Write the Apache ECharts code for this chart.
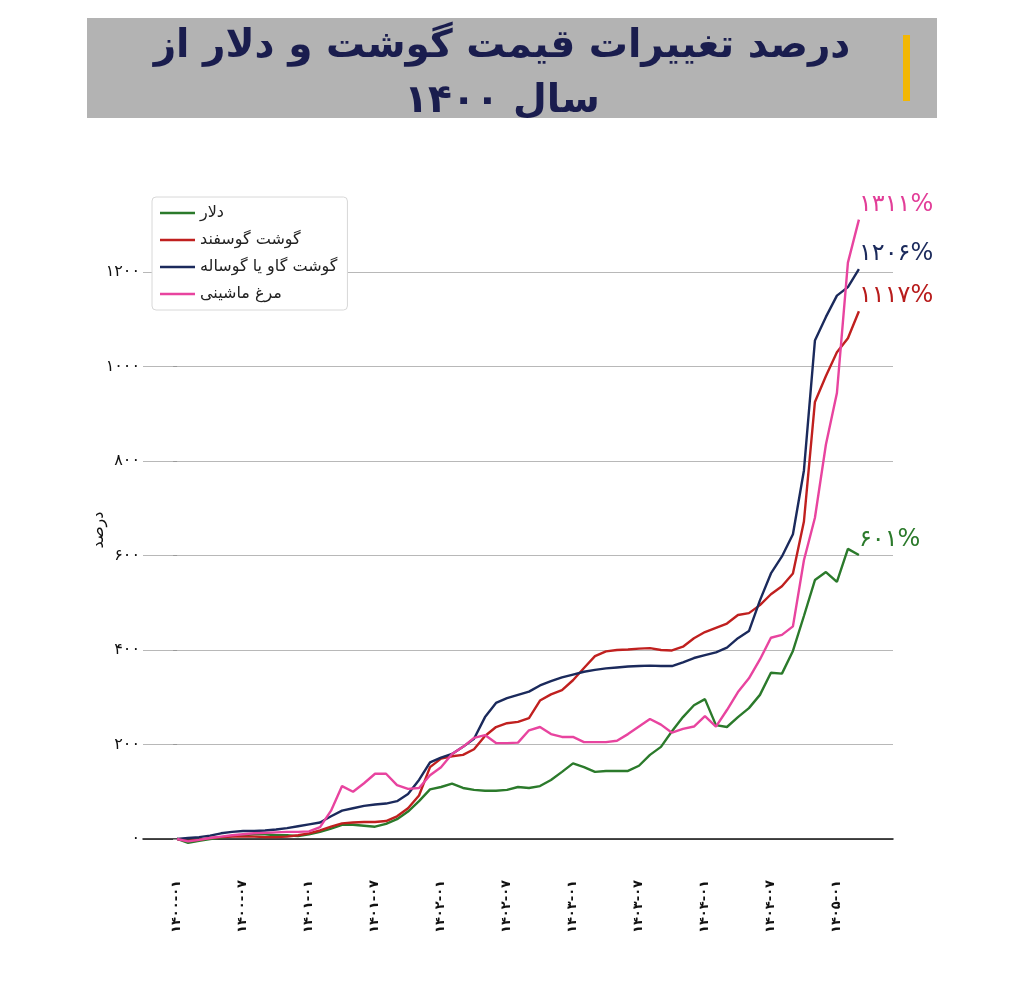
<!DOCTYPE html>
<html><head><meta charset="utf-8">
<script src="https://cdn.jsdelivr.net/npm/echarts@6/dist/echarts.min.js"></script>
<style>html,body{margin:0;padding:0;background:#fff}#c{width:1024px;height:988px}</style>
</head><body><div id="c"></div>
<script>
const seriesNames = ['دلار', 'گوشت گوسفند', 'گوشت گاو یا گوساله', 'مرغ ماشینی'];
const dollar = [0,-8,-4,0,3,6,8,10,10,8,8,6,10,15,22,30,30,28,26,32,42,58,80,105,110,117,108,104,102,102,104,110,108,112,125,142,160,152,142,144,144,144,155,178,195,228,258,283,296,241,237,258,277,305,352,350,398,472,548,565,544,614,601];
const sheep = [0,-4,-2,2,4,5,5,5,4,4,5,8,12,18,26,33,35,36,36,38,48,65,92,152,170,175,178,190,218,237,245,248,256,293,306,315,336,362,387,397,400,401,403,404,400,399,407,425,438,447,456,474,478,495,518,535,562,672,925,980,1030,1060,1117];
const beef = [0,2,4,7,12,15,17,17,18,20,23,27,31,35,48,60,65,70,73,75,80,95,125,162,172,180,195,212,258,288,298,305,312,325,334,342,348,354,358,361,363,365,366,367,366,366,374,383,389,395,405,425,440,505,562,598,645,780,1055,1105,1150,1168,1206];
const chicken = [0,-5,-2,2,5,8,10,12,13,14,15,15,16,25,60,112,100,118,138,138,114,106,108,135,152,180,195,214,220,203,203,204,230,237,222,216,216,205,205,205,208,222,238,254,242,225,233,238,260,238,273,311,340,380,426,432,450,590,680,835,944,1220,1311];
const xTickIdx = [0,6,12,18,24,30,36,42,48,54,60];
const xTickLabels = ['۱۴۰۰-۰۱','۱۴۰۰-۰۷','۱۴۰۱-۰۱','۱۴۰۱-۰۷','۱۴۰۲-۰۱','۱۴۰۲-۰۷','۱۴۰۳-۰۱','۱۴۰۳-۰۷','۱۴۰۴-۰۱','۱۴۰۴-۰۷','۱۴۰۵-۰۱'];
const yTicks = [0,200,400,600,800,1000,1200];
const yTickLabels = ['۰','۲۰۰','۴۰۰','۶۰۰','۸۰۰','۱۰۰۰','۱۲۰۰'];
const colors = ['#2b7a2b', '#c0201f', '#1b2a5c', '#e8449f'];
const labelColors = ['#2b7a2b', '#b81c1c', '#1b2a5c', '#e23e98'];

const toFa = s => String(s).replace(/\d/g, d => '۰۱۲۳۴۵۶۷۸۹'[d]);
const FONT = '"DejaVu Sans", "Noto Sans", sans-serif';
const allData = [dollar, sheep, beef, chicken];

const chart = echarts.init(document.getElementById('c'), null, {renderer: 'canvas'});
chart.setOption({
  animation: false,
  backgroundColor: '#fff',
  title: {
    text: 'درصد تغییرات قیمت گوشت و دلار از\nسال ۱۴۰۰',
    left: 497, top: 14, textAlign: 'center',
    textStyle: {fontFamily: FONT, fontSize: 39, fontWeight: 'bold', color: '#1a1d4e', lineHeight: 55}
  },
  graphic: [
    {type: 'rect', left: 87, top: 18, z: -10, shape: {width: 850, height: 100}, style: {fill: '#b3b3b3'}},
    {type: 'rect', left: 903, top: 35, z: -5, shape: {width: 7, height: 66}, style: {fill: '#f2b705'}}
  ],
  legend: {
    orient: 'vertical', left: 152, top: 197,
    data: seriesNames,
    icon: 'rect', itemWidth: 35, itemHeight: 2.5, itemGap: 9, itemTextGap: 12,
    padding: [7, 10, 7, 8],
    backgroundColor: '#fff', borderColor: '#d8d8d8', borderWidth: 1, borderRadius: 4,
    textStyle: {fontFamily: FONT, fontSize: 16, color: '#222', lineHeight: 18}
  },
  grid: {left: 143, right: 131, top: 187, bottom: 115, containLabel: false},
  xAxis: {
    type: 'value', min: -3.1, max: 65.1,
    axisLine: {show: true, lineStyle: {color: '#111', width: 1.5}},
    axisTick: {show: false},
    splitLine: {show: false},
    axisLabel: {
      customValues: xTickIdx, rotate: 90, margin: 7,
      formatter: v => xTickLabels[xTickIdx.indexOf(v)],
      fontFamily: FONT, fontSize: 13, color: '#111', fontWeight: 'bold'
    }
  },
  yAxis: {
    type: 'value', min: -72, max: 1380,
    name: 'درصد', nameLocation: 'middle', nameGap: 36, nameMoveOverlap: false,
    nameTextStyle: {fontFamily: FONT, fontSize: 16, color: '#111'},
    axisLine: {show: false},
    axisTick: {show: true, customValues: yTicks, length: 4, lineStyle: {color: '#999'}},
    splitLine: {show: true, lineStyle: {color: '#b8b8b8', width: 1}},
    axisLabel: {
      customValues: yTicks, margin: 3,
      formatter: v => yTickLabels[yTicks.indexOf(v)],
      fontFamily: FONT, fontSize: 16, color: '#111'
    }
  },
  series: allData.map((arr, k) => ({
    name: seriesNames[k], type: 'line',
    data: arr.map((v, i) => [i, v]),
    showSymbol: false, symbol: 'none',
    lineStyle: {color: colors[k], width: 2.4},
    itemStyle: {color: colors[k]},
    z: 2 + k,
    endLabel: {
      show: true, distance: 0, offset: [0, -15],
      formatter: () => toFa(arr[arr.length - 1]) + '%',
      fontFamily: FONT, fontSize: 24, color: labelColors[k]
    }
  }))
});
</script></body></html>
